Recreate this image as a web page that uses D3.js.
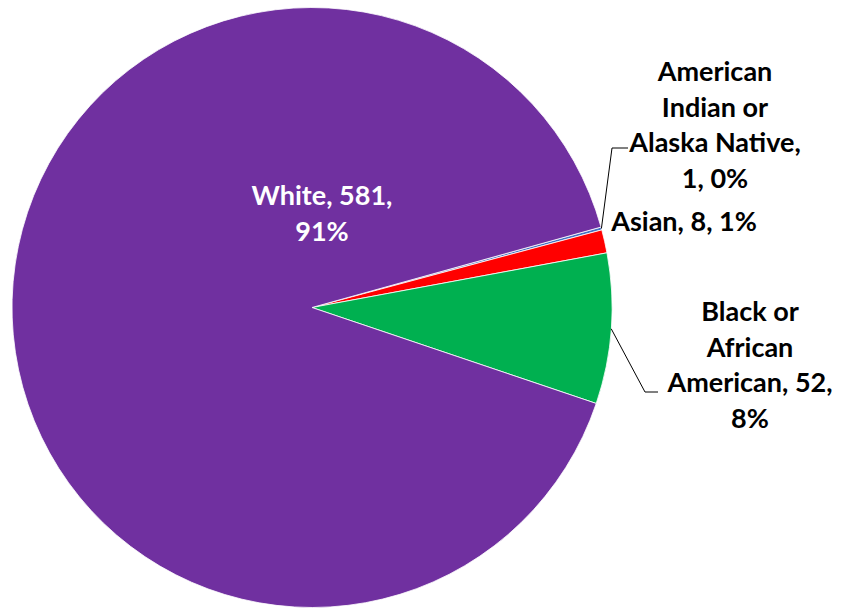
<!DOCTYPE html>
<html>
<head>
<meta charset="utf-8">
<script src="https://cdn.jsdelivr.net/npm/d3@7"></script>
<style>
  body { margin: 0; background: #fff; }
  text { font-family: Lato, "Open Sans", sans-serif; font-weight: bold; }
</style>
</head>
<body>
<div class="chart"></div>
<script>
// chart data
const categories = ["American Indian or Alaska Native", "Asian", "Black or African American", "White"];
const values = [1, 8, 52, 581];
const percents = ["0%", "1%", "8%", "91%"];
const colors = ["#4472C4", "#FF0000", "#00B050", "#7030A0"];
// wrapped label lines (the value and percent get appended)
const labelLines = [
  ["American", "Indian or", "Alaska Native,"],
  ["Asian,"],
  ["Black or", "African", "American,"],
  ["White,"]
];

const width = 849, height = 611;
const cx = 312, cy = 307.5, radius = 300;
const lineH = 35.5;

// label placement relative to pie centre
const labelPlace = [
  {x: 403, y: -182.5, leader: [300, -159.5, 316, -159.5]},
  {x: 372, y: -85.5, leader: null},
  {x: 438, y: 57.5, leader: [333, 84.5, 346, 84.5]},
  {x: 10, y: -94, leader: null}
];

const data = categories.map((c, i) => ({name: c, value: values[i], pct: percents[i], color: colors[i], i: i}));

const pie = d3.pie()
    .sort(null)
    .value(d => d.value)
    .startAngle(74.45 * Math.PI / 180)
    .endAngle(74.45 * Math.PI / 180 + 2 * Math.PI);

const arc = d3.arc().innerRadius(0).outerRadius(radius);

const svg = d3.select(".chart").append("svg")
    .attr("width", width)
    .attr("height", height),
  g = svg.append("g")
    .attr("transform", "translate(" + cx + "," + cy + ")");

const arcs = pie(data);

g.selectAll(".slice")
    .data(arcs)
  .enter().append("path")
    .attr("class", "slice")
    .attr("d", arc)
    .style("fill", d => d.data.color)
    .style("stroke", "#fff")
    .style("stroke-width", 0.8);

// leader lines: from the slice edge at mid-angle to the elbow, then a short horizontal
g.selectAll(".leader")
    .data(arcs.filter(d => labelPlace[d.data.i].leader))
  .enter().append("path")
    .attr("class", "leader")
    .attr("fill", "none")
    .attr("stroke", "#000")
    .attr("stroke-width", 1)
    .attr("d", d => {
      const a = (d.startAngle + d.endAngle) / 2;
      const L = labelPlace[d.data.i].leader;
      return "M" + (radius * Math.sin(a)) + "," + (-radius * Math.cos(a))
        + "L" + L[0] + "," + L[1] + "L" + L[2] + "," + L[3];
    });

// labels
const label = g.selectAll(".label")
    .data(arcs)
  .enter().append("text")
    .attr("class", "label")
    .attr("text-anchor", "middle")
    .style("font-size", "27px")
    .style("fill", d => d.data.i === 3 ? "#fff" : "#000")
    .attr("transform", d => "translate(" + labelPlace[d.data.i].x + "," + labelPlace[d.data.i].y + ")");

label.each(function(d) {
  const pct = d.data.pct;
  let lines = labelLines[d.data.i].slice();
  const i = d.data.i;
  if (i === 0) lines.push(d.data.value + ", " + pct);
  else if (i === 1) lines = [lines[0] + " " + d.data.value + ", " + pct];
  else { lines[lines.length - 1] += " " + d.data.value + ","; lines.push(pct); }
  const t = d3.select(this);
  const off = (lines.length - 1) / 2;
  lines.forEach((s, k) => {
    t.append("tspan")
      .attr("x", 0)
      .attr("y", (k - off) * lineH)
      .attr("dy", "0.35em")
      .text(s);
  });
});
</script>
</body>
</html>
